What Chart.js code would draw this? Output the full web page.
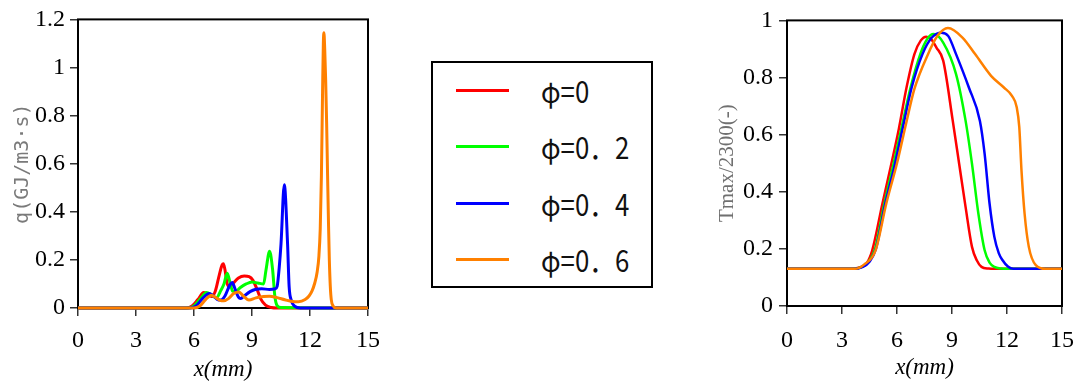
<!DOCTYPE html>
<html>
<head>
<meta charset="utf-8">
<script src="https://cdn.jsdelivr.net/npm/chart.js@4.4.1/dist/chart.umd.min.js"></script>
<style>
  html, body { margin: 0; padding: 0; background: #fff; }
  body { width: 1086px; height: 381px; position: relative; overflow: hidden; }
  #qWrap { position: absolute; left: 0; top: 0; width: 390px; height: 381px; }
  #tWrap { position: absolute; left: 700px; top: 0; width: 386px; height: 381px; }
  #legend {
    position: absolute; left: 431px; top: 61px; width: 222px; height: 227px;
    box-sizing: border-box; border: 2px solid #000; background: #fff;
  }
  .row { position: absolute; left: 0; width: 100%; height: 0; }
  .swatch { position: absolute; left: 23px; width: 53px; height: 3px; top: -1.5px; }
  .label {
    position: absolute; left: 108px; top: 0; transform: translateY(-50%) scaleX(0.86);
    transform-origin: left center; white-space: nowrap;
    font-family: "Noto Sans CJK JP", sans-serif; font-size: 30px; line-height: 1; color: #111;
  }
</style>
</head>
<body>
<div id="qWrap"><canvas id="qChart" width="390" height="381"></canvas></div>
<div id="legend"></div>
<div id="tWrap"><canvas id="tChart" width="386" height="381"></canvas></div>
<script>
// Equivalence ratio cases
const seriesNames = ["φ=0", "φ=0．2", "φ=0．4", "φ=0．6"];
const seriesColors = ["#ff0000", "#00ff00", "#0000ff", "#ff8000"];

// Shared x-axis ticks (mm)
const xTicks = [0, 3, 6, 9, 12, 15];

// Heat release rate q (GJ/m3·s) along x (mm)
const qX0 = [0, 5.6, 5.9, 6.2, 6.5, 6.7, 6.9, 7.1, 7.3, 7.45, 7.52, 7.6, 7.72, 7.85, 8.05, 8.3, 8.6, 8.85, 9.05, 9.25, 9.45, 9.7, 10.0, 10.3, 15];
const qY0 = [0, 0, 0.008, 0.035, 0.064, 0.058, 0.048, 0.07, 0.135, 0.178, 0.184, 0.16, 0.1, 0.088, 0.105, 0.125, 0.133, 0.13, 0.115, 0.08, 0.038, 0.012, 0.002, 0, 0];

const qX2 = [0, 5.7, 6.0, 6.35, 6.65, 6.9, 7.15, 7.4, 7.55, 7.72, 7.85, 8.0, 8.15, 8.4, 8.7, 9.0, 9.3, 9.6, 9.72, 9.91, 10.07, 10.18, 10.3, 10.5, 15];
const qY2 = [0, 0, 0.008, 0.04, 0.064, 0.055, 0.042, 0.075, 0.1, 0.145, 0.11, 0.07, 0.068, 0.085, 0.1, 0.108, 0.104, 0.1, 0.156, 0.236, 0.156, 0.05, 0.01, 0.002, 0];

const qX4 = [0, 5.8, 6.1, 6.45, 6.78, 7.0, 7.2, 7.38, 7.6, 7.85, 7.98, 8.12, 8.3, 8.42, 8.6, 8.9, 9.2, 9.5, 9.9, 10.2, 10.3, 10.41, 10.5, 10.67, 10.84, 10.92, 11.03, 11.2, 11.5, 15];
const qY4 = [0, 0, 0.008, 0.04, 0.06, 0.05, 0.036, 0.033, 0.05, 0.095, 0.106, 0.08, 0.045, 0.04, 0.05, 0.068, 0.078, 0.08, 0.077, 0.08, 0.09, 0.17, 0.266, 0.512, 0.266, 0.09, 0.033, 0.008, 0, 0];

const qX6 = [0, 6.0, 6.3, 6.6, 6.9, 7.1, 7.35, 7.55, 7.8, 8.05, 8.32, 8.55, 8.84, 9.2, 9.6, 9.9, 10.3, 10.7, 11.1, 11.4, 11.75, 11.95, 12.1, 12.25, 12.37, 12.46, 12.53, 12.59, 12.65, 12.69, 12.72, 12.76, 12.81, 12.86, 12.91, 12.96, 13.0, 13.05, 13.1, 13.2, 13.35, 15];
const qY6 = [0, 0, 0.008, 0.035, 0.053, 0.045, 0.032, 0.03, 0.04, 0.06, 0.067, 0.05, 0.033, 0.042, 0.048, 0.049, 0.043, 0.034, 0.027, 0.026, 0.035, 0.05, 0.07, 0.105, 0.15, 0.215, 0.33, 0.55, 0.9, 1.1, 1.145, 1.08, 0.95, 0.77, 0.55, 0.34, 0.2, 0.09, 0.035, 0.008, 0, 0];

// Normalised peak temperature Tmax/2300 (-) along x (mm)
const tX0 = [0, 3.5, 3.95, 4.34, 4.65, 5.21, 5.65, 6.1, 6.52, 6.95, 7.3, 7.6, 7.85, 8.15, 8.52, 9.04, 9.39, 9.74, 10.09, 10.35, 10.61, 11.0, 11.3, 15];
const tY0 = [0.13, 0.13, 0.135, 0.149, 0.195, 0.36, 0.486, 0.62, 0.765, 0.882, 0.93, 0.943, 0.935, 0.905, 0.859, 0.649, 0.498, 0.347, 0.207, 0.16, 0.137, 0.131, 0.13, 0.13];

const tX2 = [0, 3.6, 4.05, 4.45, 4.8, 5.3, 5.77, 6.25, 6.74, 7.27, 7.65, 8.0, 8.52, 9.22, 9.74, 10.09, 10.44, 10.78, 11.05, 11.31, 11.7, 12.0, 15];
const tY2 = [0.13, 0.13, 0.136, 0.155, 0.2, 0.355, 0.486, 0.625, 0.765, 0.882, 0.935, 0.952, 0.922, 0.812, 0.649, 0.498, 0.323, 0.195, 0.152, 0.137, 0.131, 0.13, 0.13];

const tX4 = [0, 3.65, 4.1, 4.5, 4.85, 5.35, 5.85, 6.3, 6.8, 7.39, 7.9, 8.43, 8.8, 9.22, 9.92, 10.52, 10.78, 11.05, 11.31, 11.55, 11.75, 12.05, 12.35, 15];
const tY4 = [0.13, 0.13, 0.136, 0.155, 0.2, 0.355, 0.486, 0.62, 0.765, 0.882, 0.94, 0.957, 0.945, 0.882, 0.765, 0.649, 0.533, 0.358, 0.242, 0.185, 0.161, 0.138, 0.13, 0.13];

const tX6 = [0, 3.7, 4.2, 4.83, 5.42, 6.0, 6.5, 6.95, 7.68, 8.2, 8.78, 9.57, 10.26, 11.13, 11.83, 12.27, 12.53, 12.67, 12.79, 12.96, 13.19, 13.57, 14.1, 15];
const tY6 = [0.13, 0.13, 0.145, 0.195, 0.36, 0.5, 0.64, 0.76, 0.88, 0.945, 0.973, 0.94, 0.882, 0.806, 0.765, 0.736, 0.696, 0.626, 0.475, 0.323, 0.207, 0.143, 0.13, 0.13];

const qSeries = [[qX0, qY0], [qX2, qY2], [qX4, qY4], [qX6, qY6]];
const tSeries = [[tX0, tY0], [tX2, tY2], [tX4, tY4], [tX6, tY6]];

const toPoints = (xs, ys) => xs.map((x, i) => ({ x: x, y: ys[i] }));

// Draws the closed box around the plotting area
const boxFrame = {
  id: 'boxFrame',
  beforeDatasetsDraw(chart) {
    const { ctx, chartArea: a } = chart;
    ctx.save();
    ctx.strokeStyle = '#000';
    ctx.lineWidth = 2;
    ctx.strokeRect(a.left, a.top, a.right - a.left, a.bottom - a.top);
    ctx.restore();
  }
};

function buildDatasets(series, width) {
  return series.map((s, i) => ({
    label: seriesNames[i],
    data: toPoints(s[0], s[1]),
    borderColor: seriesColors[i],
    backgroundColor: seriesColors[i],
    borderWidth: width,
    pointRadius: 0,
    cubicInterpolationMode: 'monotone',
    order: series.length - 1 - i,
    clip: false
  }));
}

const plainNumber = (v) => String(Math.round(v * 10) / 10);

function buildOptions(cfg) {
  const serif = 'Liberation Serif, Times New Roman, serif';
  return {
    responsive: false,
    animation: false,
    devicePixelRatio: 1,
    layout: { padding: cfg.padding },
    plugins: { legend: { display: false }, tooltip: { enabled: false } },
    scales: {
      x: {
        type: 'linear', min: 0, max: 15,
        afterBuildTicks: (s) => { s.ticks = xTicks.map(v => ({ value: v })); },
        afterFit: (s) => { s.height = cfg.xAxisHeight; },
        border: { display: false },
        grid: { drawOnChartArea: false, drawTicks: true, tickLength: 8, tickColor: '#333', lineWidth: 1.5 },
        ticks: { color: '#000', font: { family: serif, size: 24 }, padding: cfg.xTickPad, maxRotation: 0,
                 callback: plainNumber },
        title: { display: true, text: 'x(mm)', color: '#000',
                 font: { family: serif, size: 23, style: 'italic', lineHeight: 1 },
                 padding: { top: 0, bottom: cfg.xTitlePad } }
      },
      y: {
        type: 'linear', min: 0, max: cfg.yMax,
        ticks: { stepSize: 0.2, color: '#000', font: { family: serif, size: 24 }, padding: cfg.yTickPad,
                 callback: plainNumber },
        afterFit: (s) => { s.width = cfg.yAxisWidth; },
        border: { display: false },
        grid: { drawOnChartArea: false, drawTicks: true, tickLength: 8, tickColor: '#333', lineWidth: 1.5 },
        title: { display: true, text: cfg.yTitle, color: cfg.yTitleColor,
                 font: cfg.yTitleFont, padding: { top: cfg.yTitlePad, bottom: 0 } }
      }
    }
  };
}

new Chart(document.getElementById('qChart'), {
  type: 'line',
  data: { datasets: buildDatasets(qSeries, 3) },
  options: buildOptions({
    padding: { top: 16, right: 20, left: 0, bottom: 0 },
    xAxisHeight: 73, yAxisWidth: 78, yMax: 1.2,
    xTickPad: 10, yTickPad: 5, xTitlePad: 0,
    yTitle: 'q(GJ/m3·s)', yTitleColor: '#7a7a7a',
    yTitleFont: { family: 'DejaVu Sans Mono, monospace', size: 20, lineHeight: 1 },
    yTitlePad: 13
  }),
  plugins: [boxFrame]
});

new Chart(document.getElementById('tChart'), {
  type: 'line',
  data: { datasets: buildDatasets(tSeries, 2.5) },
  options: buildOptions({
    padding: { top: 19, right: 12, left: 0, bottom: 0 },
    xAxisHeight: 75, yAxisWidth: 87, yMax: 1,
    xTickPad: 12, yTickPad: 6, xTitlePad: 2,
    yTitle: 'Tmax/2300(-)', yTitleColor: '#707070',
    yTitleFont: { family: 'Liberation Serif, serif', size: 21, lineHeight: 1 },
    yTitlePad: 17
  }),
  plugins: [boxFrame]
});

// Legend box built from the same series names and colours
const legend = document.getElementById('legend');
const rowTops = [27, 83, 140, 196];
seriesNames.forEach((name, i) => {
  const row = document.createElement('div');
  row.className = 'row';
  row.style.top = rowTops[i] + 'px';
  const sw = document.createElement('div');
  sw.className = 'swatch';
  sw.style.background = seriesColors[i];
  const lb = document.createElement('div');
  lb.className = 'label';
  lb.textContent = name;
  row.appendChild(sw);
  row.appendChild(lb);
  legend.appendChild(row);
});
</script>
</body>
</html>
